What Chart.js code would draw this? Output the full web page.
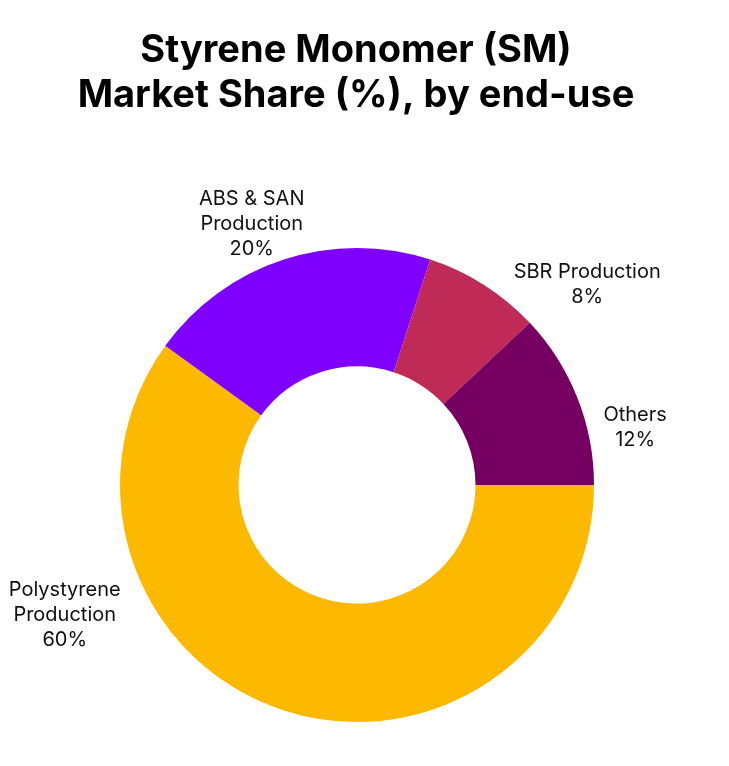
<!DOCTYPE html>
<html>
<head>
<meta charset="utf-8">
<script src="https://cdn.jsdelivr.net/npm/chart.js@4"></script>
<style>
  html, body { margin: 0; padding: 0; background: #fff; }
  #wrap { width: 729px; height: 766px; }
</style>
</head>
<body>
<div id="wrap"><canvas id="c" width="729" height="766"></canvas></div>
<script>
// Chart data
const TITLE_LINES = ['Styrene Monomer (SM)', 'Market Share (%), by end-use'];
const categories = [['Polystyrene', 'Production'], ['ABS & SAN', 'Production'], ['SBR Production'], ['Others']];
const shares = [60, 20, 8, 12];
const colors = ['#FDB900', '#7F00FF', '#BF2A57', '#760061'];

// label placement: angle (deg clockwise from top) and radius factor relative to outer radius
const labelSpots = [
    { angle: 246, r: 1.35 },
    { angle: 338, r: 1.186 },
    { angle: 49, r: 1.287 },
    { angle: 78.4, r: 1.198 },
];

const titlePlugin = {
    id: 'bigTitle',
    afterDraw(chart) {
        const c = chart.ctx;
        c.save();
        c.fillStyle = '#000';
        c.font = 'bold 38px Inter';
        c.textAlign = 'center';
        c.textBaseline = 'middle';
        c.fillText(TITLE_LINES[0], 356, 51);
        c.fillText(TITLE_LINES[1], 356, 96);
        c.restore();
    },
};

const outsideLabels = {
    id: 'outsideLabels',
    afterDraw(chart) {
        const c = chart.ctx;
        const arcs = chart.getDatasetMeta(0).data;
        c.save();
        c.fillStyle = '#111';
        c.font = '20px Inter';
        c.textAlign = 'center';
        c.textBaseline = 'middle';
        arcs.forEach((arc, i) => {
            const spot = labelSpots[i];
            const a = spot.angle * Math.PI / 180;
            const x = arc.x + Math.sin(a) * arc.outerRadius * spot.r;
            const y = arc.y - Math.cos(a) * arc.outerRadius * spot.r;
            const lines = [...categories[i], shares[i] + '%'];
            const lh = 25;
            const top = y - (lines.length - 1) * lh / 2;
            lines.forEach((ln, j) => c.fillText(ln, x, top + j * lh));
        });
        c.restore();
    },
};

new Chart(document.getElementById('c'), {
    type: 'doughnut',
    data: {
        labels: categories.map(l => l.join(' ')),
        datasets: [{
            data: shares,
            backgroundColor: colors,
            borderWidth: 0,
        }],
    },
    options: {
        responsive: false,
        animation: false,
        rotation: 90,
        cutout: '50%',
        layout: { padding: { top: 248, bottom: 44, left: 0, right: 15 } },
        plugins: {
            legend: { display: false },
            tooltip: { enabled: false },
            title: { display: false },
        },
    },
    plugins: [titlePlugin, outsideLabels],
});
</script>
</body>
</html>
